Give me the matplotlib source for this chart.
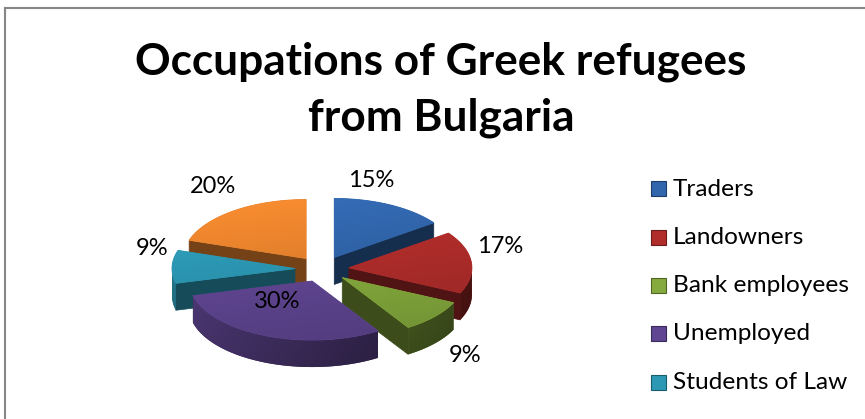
import numpy as np
import matplotlib
matplotlib.use("Agg")
import matplotlib.pyplot as plt
from matplotlib.patches import Polygon, Rectangle
import matplotlib.colors as mcolors

# ---------------- data ----------------
categories = ["Traders", "Landowners", "Bank employees", "Unemployed",
              "Students of Law", "Other"]
values = [15, 17, 9, 30, 9, 20]
pct_labels = ["15%", "17%", "9%", "30%", "9%", "20%"]
legend_count = 5          # the legend in the original shows only five entries
colors = ["#3166AC", "#B02D2B", "#85AA3D", "#604692", "#2C98B4", "#EA842D"]
title_lines = ["Occupations of Greek refugees", "from Bulgaria"]

# ---------------- layout ----------------
W, H = 865, 419
CX, CY = 322, 269          # pie centre (pixels)
RX, RY = 123, 59           # ellipse radii of the top face
DEPTH = 27                 # thickness of the pie
EXPLODE = 27               # radial explosion
label_xy = [(371, 180), (500, 246), (465, 355), (277, 301), (152, 248), (213, 186)]
FONT = ["Lato", "DejaVu Sans"]

fig = plt.figure(figsize=(W / 100, H / 100), dpi=100)
ax = fig.add_axes([0, 0, 1, 1])
ax.set_xlim(0, W)
ax.set_ylim(H, 0)
ax.axis("off")


def shade(c, f):
    r, g, b = mcolors.to_rgb(c)
    return (min(r * f, 1), min(g * f, 1), min(b * f, 1))


def gradient_fill(poly_pts, col, x0, x1, y0, y1, f_left, f_right, f_top, f_bot, z):
    """Fill a polygon with a bilinear brightness gradient."""
    poly = Polygon(poly_pts, closed=True, fc=shade(col, (f_left + f_right) / 2),
                   ec="none", zorder=z)
    ax.add_patch(poly)
    nx, ny = 60, 30
    fx = np.linspace(f_left, f_right, nx)[None, :]
    fy = np.linspace(f_top, f_bot, ny)[:, None]
    f = fx * fy
    base = np.array(mcolors.to_rgb(col))
    img = np.clip(base[None, None, :] * f[:, :, None], 0, 1)
    im = ax.imshow(img, extent=(x0, x1, y1, y0), interpolation="bilinear",
                   aspect="auto", zorder=z + 0.01)
    im.set_clip_path(poly)


total = float(sum(values))
starts = np.concatenate([[0], np.cumsum(values)[:-1]]) / total * 360.0
ends = np.cumsum(values) / total * 360.0
mids = (starts + ends) / 2.0
order = np.argsort(-np.cos(np.radians(mids)))   # back slices first
K = RY / RX

z = 1.0
for i in order:
    s, e, m = np.radians(starts[i]), np.radians(ends[i]), np.radians(mids[i])
    ox = CX + EXPLODE * np.sin(m)
    oy = CY - EXPLODE * K * np.cos(m)
    th = np.linspace(s, e, 120)
    tx = ox + RX * np.sin(th)
    ty = oy - RY * np.cos(th)
    col = colors[i]
    # radial walls
    if np.sin(s) < -1e-6:
        quad = [(ox, oy), (tx[0], ty[0]), (tx[0], ty[0] + DEPTH), (ox, oy + DEPTH)]
        ax.add_patch(Polygon(quad, closed=True, fc=shade(col, 0.5),
                             ec=shade(col, 0.5), lw=0.5, zorder=z))
    if np.sin(e) > 1e-6:
        quad = [(ox, oy), (tx[-1], ty[-1]), (tx[-1], ty[-1] + DEPTH), (ox, oy + DEPTH)]
        ax.add_patch(Polygon(quad, closed=True, fc=shade(col, 0.45),
                             ec=shade(col, 0.45), lw=0.5, zorder=z))
    # outer (front) wall
    a0, a1 = max(s, np.pi / 2), min(e, 1.5 * np.pi)
    if a1 > a0:
        ta = np.linspace(a0, a1, 120)
        wx = ox + RX * np.sin(ta)
        wy = oy - RY * np.cos(ta)
        pts = list(zip(wx, wy)) + list(zip(wx[::-1], wy[::-1] + DEPTH))
        xl, xr = ox - RX, ox + RX
        gradient_fill(pts, col, xl, xr, wy.min() - 1, wy.max() + DEPTH + 1,
                      0.78, 0.42, 1.0, 0.9, z)
    # top face
    top = [(ox, oy)] + list(zip(tx, ty))
    ax.add_patch(Polygon(top, closed=True, fc="none", ec=col, lw=0.6, zorder=z + 0.02))
    gradient_fill(top, col, ox - RX, ox + RX, oy - RY - 1, oy + RY + 1,
                  1.0, 0.95, 1.08, 0.9, z + 0.03)
    z += 1

# percentage labels
for i, (lx, ly) in enumerate(label_xy):
    ax.text(lx, ly, pct_labels[i], ha="center", va="center", fontsize=17,
            family=FONT, color="black", zorder=50)

# title
ax.text(441, 75, title_lines[0], ha="center", va="baseline", fontsize=31.8,
        fontweight="bold", family=FONT)
ax.text(441, 130, title_lines[1], ha="center", va="baseline", fontsize=31.8,
        fontweight="bold", family=FONT)

# legend
for k in range(legend_count):
    yc = 189 + k * 48.3
    ax.add_patch(Rectangle((651, yc - 7.5), 15, 15, fc=colors[k],
                           ec=shade(colors[k], 0.6), lw=0.8))
    ax.text(673, yc, categories[k], ha="left", va="center", fontsize=17.6, family=FONT)

# chart frame
ax.plot([5, 5], [H, 8], color="#868686", lw=1.5, clip_on=False)
ax.plot([5, W], [8, 8], color="#868686", lw=1.5, clip_on=False)

fig.savefig("out.png", dpi=100)
